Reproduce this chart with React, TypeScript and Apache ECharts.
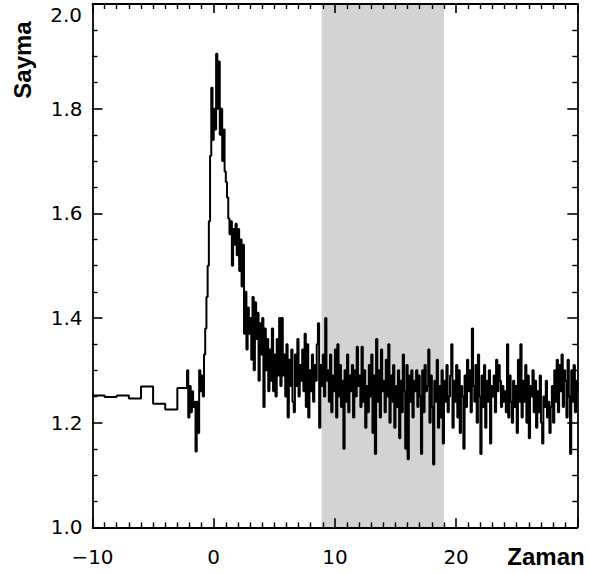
import React, { useEffect, useRef } from 'react';
import * as echarts from 'echarts';

// Pre-flare coarse bins (left edge time, value)
const preTimes = [-10, -9, -8, -7, -6, -5, -4, -3];
const preValues = [1.252, 1.249, 1.252, 1.246, 1.269, 1.236, 1.225, 1.266];

// Fine bins, starting at t = -2.2, step 0.1
const fineStart = -2.2;
const fineStep = 0.1;
const fineValues = [
  1.30, 1.21, 1.27, 1.22, 1.26, 1.23, 1.24, 1.145, 1.24, 1.18,
  1.30, 1.26, 1.29, 1.25, 1.33, 1.38, 1.44, 1.50, 1.585, 1.71,
  1.84, 1.74, 1.80, 1.76, 1.905, 1.80, 1.89, 1.75, 1.80, 1.70,
  1.76, 1.68, 1.66, 1.63, 1.59, 1.56, 1.585, 1.50, 1.57, 1.54,
  1.58, 1.52, 1.57, 1.49, 1.55, 1.46, 1.54, 1.37, 1.45, 1.34,
  1.42, 1.37, 1.40, 1.32, 1.44, 1.30, 1.43, 1.36, 1.41, 1.28,
  1.39, 1.33, 1.40, 1.23, 1.38, 1.30, 1.36, 1.26, 1.34, 1.28,
  1.38, 1.26, 1.33, 1.25, 1.36, 1.29, 1.40, 1.27,
  1.40, 1.29, 1.33, 1.25, 1.35, 1.21, 1.32, 1.27, 1.34, 1.24,
  1.22, 1.33, 1.27, 1.36, 1.25, 1.31, 1.28, 1.34, 1.26, 1.37,
  1.23, 1.35, 1.21, 1.30, 1.26, 1.33, 1.24, 1.31, 1.28, 1.35,
  1.39, 1.19, 1.31, 1.27, 1.33, 1.25, 1.40, 1.28, 1.30, 1.24,
  1.33, 1.22, 1.29, 1.26, 1.34, 1.21, 1.35, 1.25, 1.31, 1.23,
  1.28, 1.15, 1.30, 1.24, 1.33, 1.22, 1.29, 1.26, 1.31, 1.21,
  1.30, 1.25, 1.345, 1.27, 1.29, 1.23, 1.345, 1.24, 1.30, 1.19,
  1.27, 1.22, 1.31, 1.25, 1.33, 1.18, 1.29, 1.14, 1.36, 1.24,
  1.30, 1.21, 1.34, 1.26, 1.28, 1.22, 1.32, 1.25, 1.35, 1.20,
  1.29, 1.24, 1.31, 1.19, 1.27, 1.23, 1.30, 1.17, 1.28, 1.22,
  1.33, 1.26, 1.15, 1.31, 1.13, 1.29, 1.24, 1.30, 1.21, 1.28,
  1.26, 1.30, 1.23, 1.29, 1.25, 1.14, 1.30, 1.22, 1.31, 1.26,
  1.27, 1.34, 1.20, 1.29, 1.23, 1.12, 1.28, 1.24, 1.32, 1.19,
  1.27, 1.21, 1.30, 1.16, 1.28, 1.24, 1.31, 1.22, 1.25, 1.29,
  1.35, 1.19, 1.28, 1.24, 1.31, 1.21, 1.30, 1.18, 1.27, 1.25,
  1.15, 1.29, 1.23, 1.32, 1.26, 1.30, 1.22, 1.38, 1.27, 1.24,
  1.31, 1.20, 1.33, 1.25, 1.14, 1.29, 1.23, 1.31, 1.19, 1.28,
  1.24, 1.30, 1.16, 1.27, 1.25, 1.29, 1.22, 1.32, 1.26, 1.31,
  1.28, 1.23, 1.27, 1.24, 1.26, 1.22, 1.35, 1.21, 1.29, 1.24,
  1.20, 1.28, 1.23, 1.27, 1.18, 1.32, 1.24, 1.35, 1.21, 1.28,
  1.24, 1.31, 1.20, 1.29, 1.17, 1.27, 1.25, 1.30, 1.22, 1.28,
  1.19, 1.26, 1.22, 1.29, 1.20, 1.16, 1.25, 1.23, 1.28, 1.21,
  1.24, 1.18, 1.23, 1.27, 1.20, 1.30, 1.24, 1.32, 1.22, 1.31,
  1.26, 1.33, 1.23, 1.30, 1.28, 1.21, 1.32, 1.25, 1.14, 1.30,
  1.24, 1.31, 1.22, 1.28, 1.26,
];

const shadeRange = [8.9, 19.0];
const xRange = [-10, 30];
const yRange = [1.0, 2.0];
const xLabelName = 'Zaman';
const yLabelName = 'Sayma';

export default function App() {
  const ref = useRef<HTMLDivElement>(null);
  useEffect(() => {
    document.body.style.margin = '0';
    if (!ref.current) return;
    const chart = echarts.init(ref.current, undefined, { renderer: 'svg' });
    const data: number[][] = [];
    preTimes.forEach((t, i) => data.push([t, preValues[i]]));
    fineValues.forEach((v, i) => data.push([+(fineStart + i * fineStep).toFixed(2), v]));
    const last = data[data.length - 1];
    data.push([last[0] + fineStep, last[1]]);

    const labelFont = { fontFamily: 'DejaVu Sans', fontSize: 20, color: '#000' };
    const axisCommon = {
      z: 10,
      axisLine: { show: true, onZero: false, lineStyle: { color: '#000', width: 1.8 } },
      splitLine: { show: false },
    };
    const xTick = { show: true, inside: true, length: 9, lineStyle: { color: '#000', width: 1.6 } };
    const xMinor = { show: true, splitNumber: 10, length: 5, lineStyle: { color: '#000', width: 1.4 } };
    const yTick = { show: true, inside: true, length: 10, lineStyle: { color: '#000', width: 1.6 } };
    const yMinor = { show: true, splitNumber: 4, length: 5, lineStyle: { color: '#000', width: 1.4 } };
    chart.setOption({
      animation: false,
      backgroundColor: '#fff',
      grid: { left: 92.5, right: 12.7, top: 4, bottom: 46.7, containLabel: false },
      xAxis: [
        {
          ...axisCommon,
          type: 'value', min: xRange[0], max: xRange[1], interval: 10, position: 'bottom',
          axisTick: xTick, minorTick: xMinor,
          axisLabel: {
            ...labelFont, margin: 20, showMaxLabel: false,
            formatter: (v: number) => (v < 0 ? '\u2212' + Math.abs(v) : String(v)),
          },
        },
        {
          ...axisCommon,
          type: 'value', min: xRange[0], max: xRange[1], interval: 10, position: 'top',
          axisTick: xTick, minorTick: xMinor,
          axisLabel: { show: false },
        },
      ],
      yAxis: [
        {
          ...axisCommon,
          type: 'value', min: yRange[0], max: yRange[1], interval: 0.2, position: 'left',
          axisTick: yTick, minorTick: yMinor,
          axisLabel: {
            ...labelFont, margin: 10, showMaxLabel: false,
            formatter: (v: number) => v.toFixed(1),
          },
        },
        {
          ...axisCommon,
          type: 'value', min: yRange[0], max: yRange[1], interval: 0.2, position: 'right',
          axisTick: yTick, minorTick: yMinor,
          axisLabel: { show: false },
        },
      ],
      graphic: [
        {
          type: 'text', x: 82, y: 15,
          style: { text: yRange[1].toFixed(1), font: '20px "DejaVu Sans"', fill: '#000', align: 'right', verticalAlign: 'middle' },
        },
        {
          type: 'text', x: 546, y: 556,
          style: { text: xLabelName, font: 'bold 24px "Liberation Sans"', fill: '#000', align: 'center', verticalAlign: 'middle' },
        },
        {
          type: 'text', x: 22.5, y: 60, rotation: Math.PI / 2,
          style: { text: yLabelName, font: 'bold 24px "Liberation Sans"', fill: '#000', align: 'center', verticalAlign: 'middle' },
        },
      ],
      series: [
        {
          type: 'line', data: [], z: 1, silent: true,
          markArea: {
            silent: true,
            itemStyle: { color: '#d3d3d3', opacity: 1 },
            data: [[{ xAxis: shadeRange[0] }, { xAxis: shadeRange[1] }]],
          },
        },
        {
          type: 'line', data, step: 'end', z: 3, symbol: 'none', silent: true,
          lineStyle: { color: '#000', width: 2 },
        },
      ],
    });
    return () => chart.dispose();
  }, []);
  return <div ref={ref} style={{ width: 590, height: 574 }} />;
}
